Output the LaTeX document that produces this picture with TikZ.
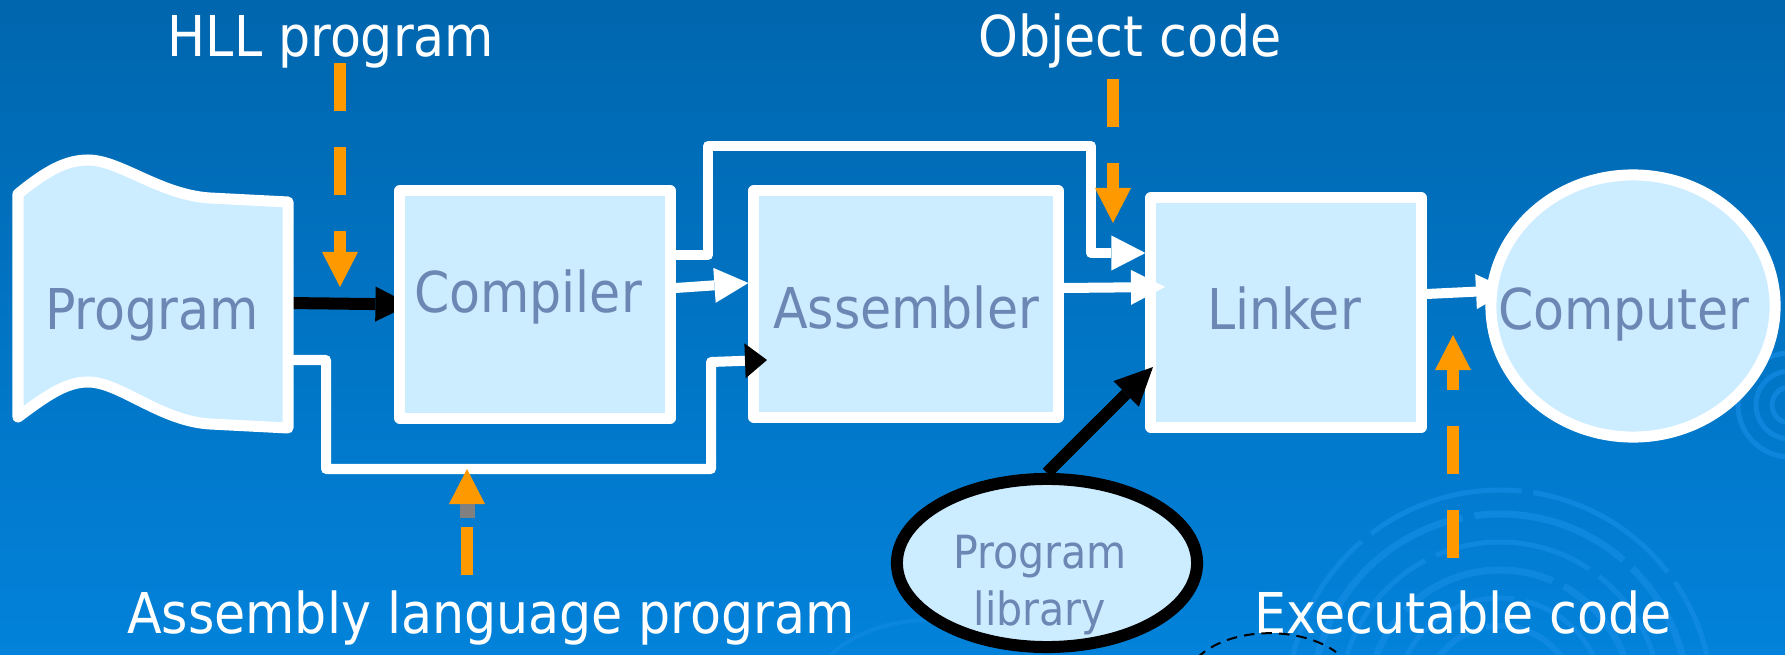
\documentclass[tikz,border=0pt]{standalone}
\usepackage{fontspec}
\setmainfont{DejaVuSansCondensed.ttf}
\usetikzlibrary{arrows.meta,shapes.geometric}
\definecolor{bgtop}{RGB}{0,102,174}
\definecolor{bgbot}{RGB}{2,130,218}
\definecolor{boxfill}{RGB}{204,236,255}
\definecolor{boxtext}{RGB}{108,135,180}
\definecolor{hintorange}{RGB}{255,153,0}
\definecolor{ripple}{RGB}{20,140,228}
\pgfdeclarelayer{bg}
\pgfdeclarelayer{behind}
\pgfsetlayers{bg,behind,main}
\tikzset{
  stage/.style={draw=white,line width=0.11cm,fill=boxfill,inner sep=0pt,line join=round},
  stagebox/.style={stage,rectangle},
  stageoval/.style={stage,ellipse},
  stagetext/.style={text=boxtext,inner sep=0pt,anchor=base,font=\fontsize{16pt}{19pt}\selectfont},
  libtext/.style={stagetext,font=\fontsize{13pt}{16pt}\selectfont},
  hint/.style={text=white,inner sep=0pt,anchor=base,font=\fontsize{16pt}{19pt}\selectfont},
  flow/.style={draw=white,line width=0.10cm,line join=round,-{Triangle[length=0.34cm,width=0.35cm,line width=0pt]}},
  feed/.style={draw=black,line width=0.12cm,-{Triangle[length=0.35cm,width=0.35cm,line width=0pt]}},
  hintarrow/.style={draw=hintorange,line width=0.12cm,dash pattern=on 0.48cm off 0.36cm,-{Triangle[length=0.35cm,width=0.36cm,line width=0pt]}},
}
\begin{document}
\begin{tikzpicture}[x=0.01cm,y=-0.01cm]
\useasboundingbox (0,0) rectangle (1785,655);
\begin{pgfonlayer}{bg}
\shade[top color=bgtop,bottom color=bgbot] (0,0) rectangle (1785,655);
\begin{scope}
\clip (0,0) rectangle (1785,655);
\foreach \r/\w in {212/0.05,188/0.07,160/0.05,132/0.07,104/0.05,76/0.06}
  \draw[ripple,line width=\w cm,opacity=.7,dash pattern=on 1.6cm off 0.12cm] (1500,702) circle[x radius=\r,y radius=\r];
\foreach \r in {18,34,52}
  \draw[ripple,line width=0.05cm,opacity=.7] (1790,405) circle[x radius=\r,y radius=\r];
\draw[ripple,line width=0.04cm,opacity=.5] (930,700) circle[x radius=120,y radius=80];
\end{scope}
\end{pgfonlayer}

\draw[stage] (18,194) .. controls (45,172) and (65,160) .. (88,160) .. controls (120,160) and (160,195) .. (210,198) -- (288,202) -- (288,428) -- (210,424) .. controls (160,421) and (120,382) .. (88,382) .. controls (65,382) and (45,397) .. (18,417) -- cycle;
\node[stagetext] (prog) at (152,330) {Program};

\node[stagebox,minimum width=2.70cm,minimum height=2.27cm] (comp) at (535,304.5) {};
\node[stagebox,minimum width=3.04cm,minimum height=2.26cm] (asm) at (906,304) {};
\node[stagebox,minimum width=2.70cm,minimum height=2.29cm] (link) at (1286,312.5) {};
\node[stageoval,minimum width=2.84cm,minimum height=2.62cm] (cpu) at (1633,306) {};
\node[stageoval,draw=black,line width=0.12cm,minimum width=3.0cm,minimum height=1.68cm] (lib) at (1047,563) {};

\node[stagetext] at (528,313) {Compiler};
\node[stagetext] at (906,329) {Assembler};
\node[stagetext] at (1284,330) {Linker};
\node[stagetext] at (1624,330) {Computer};
\node[libtext] at (1040,568) {Program};
\node[libtext] at (1040,625) {library};

\node[hint] (hll) at (331,57) {HLL program};
\node[hint] (obj) at (1130,57) {Object code};
\node[hint] (asmcode) at (491,633) {Assembly language program};
\node[hint] (exe) at (1463,633) {Executable code};

\coordinate (progout) at (288,303);
\coordinate (progdown) at (288,360);
\coordinate (asmin) at (767,360);
\coordinate (linkin) at (1165,287);
\coordinate (cpuin) at (1510,290);
\coordinate (libin) at (1153,367);

\begin{pgfonlayer}{behind}
\draw[feed] (progout) -- ([xshift=0.16cm]comp.west);
\draw[flow] (link.east |- 0,294) -- (cpuin);
\end{pgfonlayer}

\draw[flow] (comp.east |- 0,255) -- (708,255) -- (708,146) -- (1091,146) -- (1091,253) -- (link.west |- 0,253);
\draw[flow] (comp.east |- 0,288) -- (asm.west |- 0,283);
\draw[flow,-{Triangle[length=0.22cm,width=0.35cm,line width=0pt,color=black]}] (progdown) -- (326,360) -- (326,469) -- (711,469) -- (711,362) -- (asmin);
\draw[flow] (asm.east |- 0,288) -- (linkin);
\draw[feed,-{Triangle[length=0.38cm,width=0.36cm,line width=0pt]}] (lib.north) -- (libin);

\coordinate (hlltip) at (340,287);
\coordinate (objtip) at (1113,223);
\coordinate (asmtip) at (467,469);
\coordinate (exetip) at (1453,335);
\draw[hintarrow] (340,63) -- (hlltip);
\draw[hintarrow] (1113,79) -- (objtip);
\draw[hintarrow] (1453,558) -- (exetip);
\draw[hintarrow,dash pattern=on 0.48cm off 0.09cm] (467,575) -- (asmtip);
\draw[gray,line width=0.15cm] (467,518) -- (467,504);

\draw[densely dashed,line width=0.02cm] (1197,658) .. controls (1230,626) and (1300,626) .. (1336,652);
\end{tikzpicture}
\end{document}
